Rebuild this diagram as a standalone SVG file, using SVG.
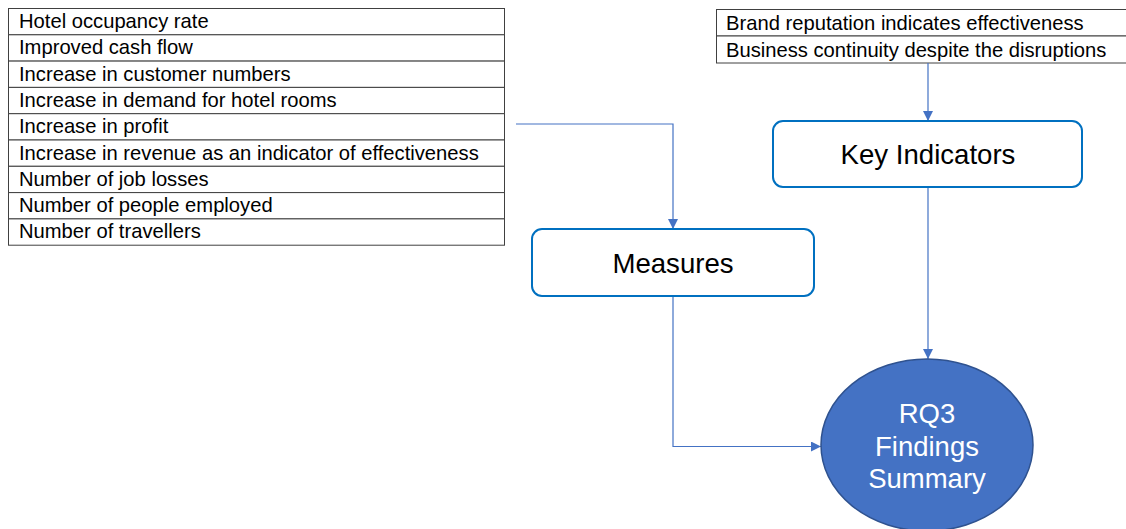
<svg xmlns="http://www.w3.org/2000/svg" width="1126" height="529" viewBox="0 0 1126 529">
  <defs>
    <marker id="arrow" viewBox="0 0 10 10" refX="10" refY="5" markerWidth="10" markerHeight="10" markerUnits="userSpaceOnUse" orient="auto">
      <path d="M0,0 L10,5 L0,10 Z" fill="#4472C4"/>
    </marker>
  </defs>
  <style>
    .cell { fill: #ffffff; stroke: #404040; stroke-width: 1; }
    .cell-text { font-family: "Liberation Sans", Arial, sans-serif; font-size: 20.2px; fill: #000000; }
    .box { fill: #ffffff; stroke: #0070C0; stroke-width: 2; }
    .box-text { font-family: "Liberation Sans", Arial, sans-serif; font-size: 27.6px; fill: #000000; text-anchor: middle; }
    .conn { fill: none; stroke: #4472C4; stroke-width: 1.2; marker-end: url(#arrow); }
    .hub { fill: #4472C4; stroke: #2F528F; stroke-width: 1.5; }
    .hub-text { font-family: "Liberation Sans", Arial, sans-serif; font-size: 27.5px; fill: #ffffff; text-anchor: middle; }
  </style>

  <!-- measures list -->
  <g id="measures-list">
    <rect class="cell" x="8.5" y="8.5" width="496" height="26.3"/>
    <rect class="cell" x="8.5" y="34.8" width="496" height="26.3"/>
    <rect class="cell" x="8.5" y="61.1" width="496" height="26.3"/>
    <rect class="cell" x="8.5" y="87.4" width="496" height="26.3"/>
    <rect class="cell" x="8.5" y="113.7" width="496" height="26.3"/>
    <rect class="cell" x="8.5" y="140" width="496" height="26.3"/>
    <rect class="cell" x="8.5" y="166.3" width="496" height="26.3"/>
    <rect class="cell" x="8.5" y="192.6" width="496" height="26.3"/>
    <rect class="cell" x="8.5" y="218.9" width="496" height="26.3"/>
    <text class="cell-text" x="19" y="28">Hotel occupancy rate</text>
    <text class="cell-text" x="19" y="54.3">Improved cash flow</text>
    <text class="cell-text" x="19" y="80.6">Increase in customer numbers</text>
    <text class="cell-text" x="19" y="106.9">Increase in demand for hotel rooms</text>
    <text class="cell-text" x="19" y="133.2">Increase in profit</text>
    <text class="cell-text" x="19" y="159.5">Increase in revenue as an indicator of effectiveness</text>
    <text class="cell-text" x="19" y="185.8">Number of job losses</text>
    <text class="cell-text" x="19" y="212.1">Number of people employed</text>
    <text class="cell-text" x="19" y="238.4">Number of travellers</text>
  </g>

  <!-- key indicators list -->
  <g id="indicators-list">
    <rect class="cell" x="716.5" y="9.5" width="420" height="26.5"/>
    <rect class="cell" x="716.5" y="36" width="420" height="27"/>
    <text class="cell-text" x="726" y="29.5">Brand reputation indicates effectiveness</text>
    <text class="cell-text" x="726" y="56.5">Business continuity despite the disruptions</text>
  </g>

  <!-- connectors -->
  <g id="connectors">
    <path class="conn" d="M516,124 H673 V229"/>
    <path class="conn" d="M928,63 V121"/>
    <path class="conn" d="M928,187 V359"/>
    <path class="conn" d="M673,296 V446.5 H821"/>
  </g>

  <g id="measures">
    <rect class="box" x="532" y="229" width="282" height="67" rx="10"/>
    <text class="box-text" x="673" y="273">Measures</text>
  </g>

  <g id="key-indicators">
    <rect class="box" x="773" y="121" width="309" height="66" rx="10"/>
    <text class="box-text" x="928" y="164">Key Indicators</text>
  </g>

  <g id="findings">
    <ellipse class="hub" cx="927" cy="445" rx="106" ry="86"/>
    <text class="hub-text" x="927" y="423">RQ3</text>
    <text class="hub-text" x="927" y="456">Findings</text>
    <text class="hub-text" x="927" y="488">Summary</text>
  </g>
</svg>
